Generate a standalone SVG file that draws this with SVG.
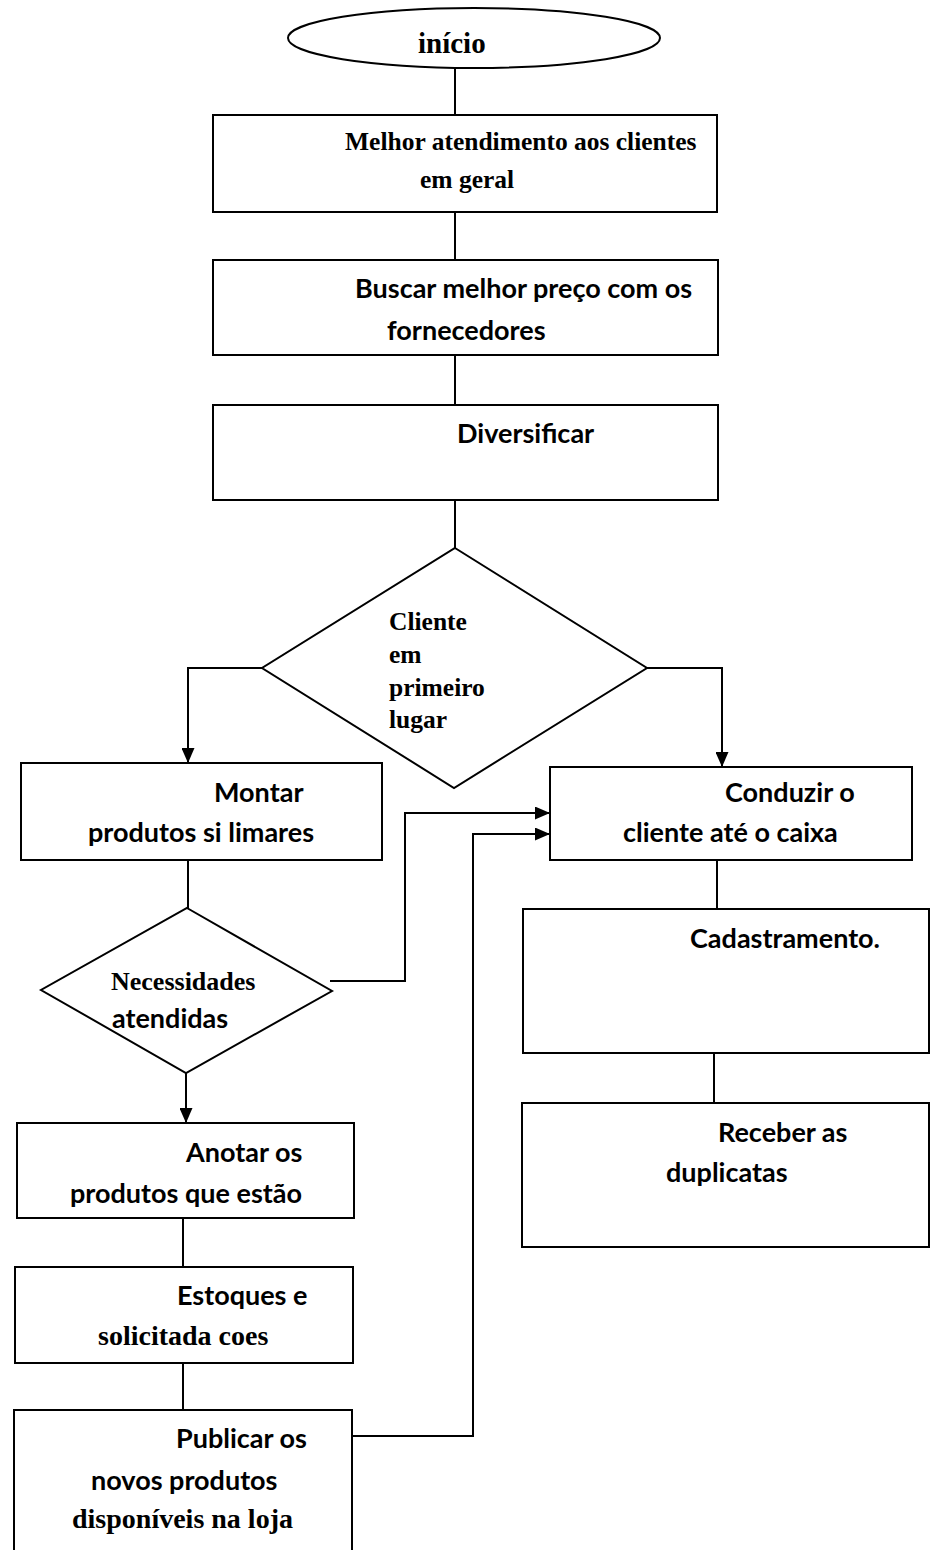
<svg xmlns="http://www.w3.org/2000/svg" width="931" height="1550" viewBox="0 0 931 1550">
<style>
.box{fill:#fff;stroke:#000;stroke-width:2}
.ln{fill:none;stroke:#000;stroke-width:2}
.sf{font-family:"Liberation Serif","Times New Roman",serif;font-weight:bold;fill:#000}
.ss{font-family:Lato,"Liberation Sans",sans-serif;font-weight:bold;fill:#000;font-size:27px}
</style>
<defs>
<marker id="ah" viewBox="0 0 15 13" refX="15" refY="6.5" markerWidth="15" markerHeight="13" markerUnits="userSpaceOnUse" orient="auto">
<path d="M0,0 L15,6.5 L0,13 z" fill="#000"/>
</marker>
</defs>
<rect width="931" height="1550" fill="#fff"/>
<g id="connectors">
<line class="ln" x1="455" y1="68" x2="455" y2="115"/>
<line class="ln" x1="455" y1="212" x2="455" y2="260"/>
<line class="ln" x1="455" y1="355" x2="455" y2="405"/>
<line class="ln" x1="455" y1="500" x2="455" y2="548"/>
<polyline class="ln" points="262,668 188,668 188,763" marker-end="url(#ah)"/>
<polyline class="ln" points="647,668 722,668 722,767" marker-end="url(#ah)"/>
<line class="ln" x1="188" y1="860" x2="188" y2="908"/>
<polyline class="ln" points="330,981 405,981 405,813 550,813" marker-end="url(#ah)"/>
<line class="ln" x1="186" y1="1073" x2="186" y2="1123" marker-end="url(#ah)"/>
<line class="ln" x1="183" y1="1218" x2="183" y2="1267"/>
<line class="ln" x1="183" y1="1363" x2="183" y2="1410"/>
<polyline class="ln" points="353,1436 473,1436 473,834 550,834" marker-end="url(#ah)"/>
<line class="ln" x1="717" y1="860" x2="717" y2="909"/>
<line class="ln" x1="714" y1="1053" x2="714" y2="1103"/>
</g>
<g id="inicio">
<ellipse class="box" cx="474" cy="38" rx="186" ry="30"/>
<text class="sf" x="418" y="53" font-size="29">início</text>
</g>
<g id="melhor-atendimento">
<rect class="box" x="213" y="115" width="504" height="97"/>
<text class="sf" x="345" y="150" font-size="25.5">Melhor atendimento aos clientes</text>
<text class="sf" x="420" y="188" font-size="25.5">em geral</text>
</g>
<g id="buscar-preco">
<rect class="box" x="213" y="260" width="505" height="95"/>
<text class="ss" x="355" y="298">Buscar melhor preço com os</text>
<text class="ss" x="387" y="340">fornecedores</text>
</g>
<g id="diversificar">
<rect class="box" x="213" y="405" width="505" height="95"/>
<text class="ss" x="457" y="443">Diversificar</text>
</g>
<g id="cliente-primeiro">
<polygon class="box" points="455,548 647,668 454,788 262,668"/>
<text class="sf" x="389" y="630" font-size="25.5">Cliente</text>
<text class="sf" x="389" y="663" font-size="25.5">em</text>
<text class="sf" x="389" y="696" font-size="25.5">primeiro</text>
<text class="sf" x="389" y="728" font-size="25.5">lugar</text>
</g>
<g id="montar">
<rect class="box" x="21" y="763" width="361" height="97"/>
<text class="ss" x="214" y="802">Montar</text>
<text class="ss" x="88" y="842">produtos si limares</text>
</g>
<g id="conduzir">
<rect class="box" x="550" y="767" width="362" height="93"/>
<text class="ss" x="725" y="802">Conduzir o</text>
<text class="ss" x="623" y="842">cliente até o caixa</text>
</g>
<g id="necessidades">
<polygon class="box" points="187,908 332,991 186,1073 41,990"/>
<text class="sf" x="111" y="990" font-size="26">Necessidades</text>
<text class="ss" x="112" y="1028">atendidas</text>
</g>
<g id="cadastramento">
<rect class="box" x="523" y="909" width="406" height="144"/>
<text class="ss" x="690" y="948">Cadastramento.</text>
</g>
<g id="receber">
<rect class="box" x="522" y="1103" width="407" height="144"/>
<text class="ss" x="718" y="1142">Receber as</text>
<text class="ss" x="666" y="1182">duplicatas</text>
</g>
<g id="anotar">
<rect class="box" x="17" y="1123" width="337" height="95"/>
<text class="ss" x="186" y="1162">Anotar os</text>
<text class="ss" x="70" y="1203">produtos que estão</text>
</g>
<g id="estoques">
<rect class="box" x="15" y="1267" width="338" height="96"/>
<text class="ss" x="177" y="1305">Estoques e</text>
<text class="sf" x="98" y="1345" font-size="28">solicitada coes</text>
</g>
<g id="publicar">
<rect class="box" x="14" y="1410" width="338" height="150"/>
<text class="ss" x="176" y="1448">Publicar os</text>
<text class="ss" x="91" y="1490">novos produtos</text>
<text class="sf" x="72" y="1528" font-size="28">disponíveis na loja</text>
</g>
</svg>
